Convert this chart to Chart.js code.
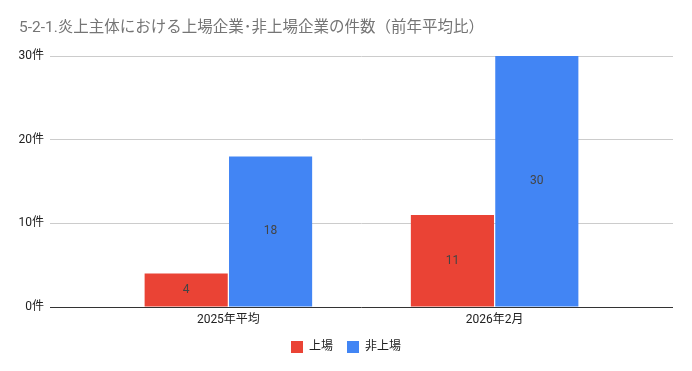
<!DOCTYPE html>
<html lang="ja">
<head>
    <meta charset="UTF-8" />
    <title>上場企業・非上場企業の件数</title>
    <script src="https://cdn.jsdelivr.net/npm/chart.js"></script>
    <style>
        body { margin: 0; background: #fff; }
        #wrap { width: 692px; height: 371px; }
    </style>
</head>
<body>
    <div id="wrap"><canvas id="companyChart" width="692" height="371"></canvas></div>

    <script>
        // データ
        const categories = ['2025年平均', '2026年2月'];
        const listedCounts = [4, 11];
        const unlistedCounts = [18, 30];
        const yTickValues = [0, 10, 20, 30];

        const fontFamily = "Roboto, 'Noto Sans CJK JP', sans-serif";

        // 棒の中央に値を表示
        const barLabels = {
            id: 'barLabels',
            afterDatasetsDraw(chart) {
                const ctx = chart.ctx;
                ctx.save();
                ctx.font = '12px ' + fontFamily;
                ctx.fillStyle = '#444';
                ctx.textAlign = 'center';
                ctx.textBaseline = 'middle';
                chart.data.datasets.forEach((ds, i) => {
                    chart.getDatasetMeta(i).data.forEach((bar, j) => {
                        ctx.fillText(ds.data[j].y, bar.x, (bar.y + bar.base) / 2);
                    });
                });
                ctx.restore();
            }
        };

        const toPoints = values => values.map((v, i) => ({ x: i, y: v }));

        new Chart(document.getElementById('companyChart'), {
            type: 'bar',
            data: {
                datasets: [
                    {
                        label: '上場',
                        data: toPoints(listedCounts),
                        backgroundColor: '#ea4335'
                    },
                    {
                        label: '非上場',
                        data: toPoints(unlistedCounts),
                        backgroundColor: '#4285f4'
                    }
                ]
            },
            options: {
                responsive: false,
                animation: false,
                layout: { padding: { left: 19, right: 19, top: 0, bottom: 8 } },
                datasets: {
                    bar: { categoryPercentage: 0.634, barPercentage: 0.985 }
                },
                plugins: {
                    title: {
                        display: true,
                        text: '5-2-1.炎上主体における上場企業･非上場企業の件数（前年平均比）',
                        align: 'start',
                        color: '#757575',
                        font: { family: fontFamily, size: 15.5, weight: 'normal' },
                        padding: { top: 19, bottom: 18.4 }
                    },
                    legend: {
                        position: 'bottom',
                        labels: {
                            boxWidth: 12,
                            boxHeight: 12,
                            padding: 14,
                            color: '#222',
                            font: { family: fontFamily, size: 12 }
                        }
                    },
                    tooltip: { enabled: false }
                },
                scales: {
                    x: {
                        type: 'linear',
                        min: -0.67,
                        max: 1.67,
                        offset: false,
                        grid: { display: false, drawTicks: false },
                        border: { display: false },
                        afterBuildTicks: axis => {
                            axis.ticks = categories.map((c, i) => ({ value: i }));
                        },
                        afterFit: axis => { axis.height = 20; },
                        ticks: {
                            autoSkip: false,
                            maxRotation: 0,
                            padding: 6,
                            color: '#222',
                            font: { family: fontFamily, size: 12 },
                            callback: v => categories[v]
                        }
                    },
                    y: {
                        min: 0,
                        max: 30,
                        border: { display: false },
                        grid: {
                            drawTicks: false,
                            color: ctx => ctx.tick && ctx.tick.value === 0 ? '#333' : '#ccc'
                        },
                        afterBuildTicks: axis => {
                            axis.ticks = yTickValues.map(v => ({ value: v }));
                        },
                        afterFit: axis => { axis.width = 31; },
                        ticks: {
                            padding: 6,
                            color: '#222',
                            font: { family: fontFamily, size: 12 },
                            callback: v => v + '件'
                        }
                    }
                }
            },
            plugins: [barLabels]
        });
    </script>
</body>
</html>
